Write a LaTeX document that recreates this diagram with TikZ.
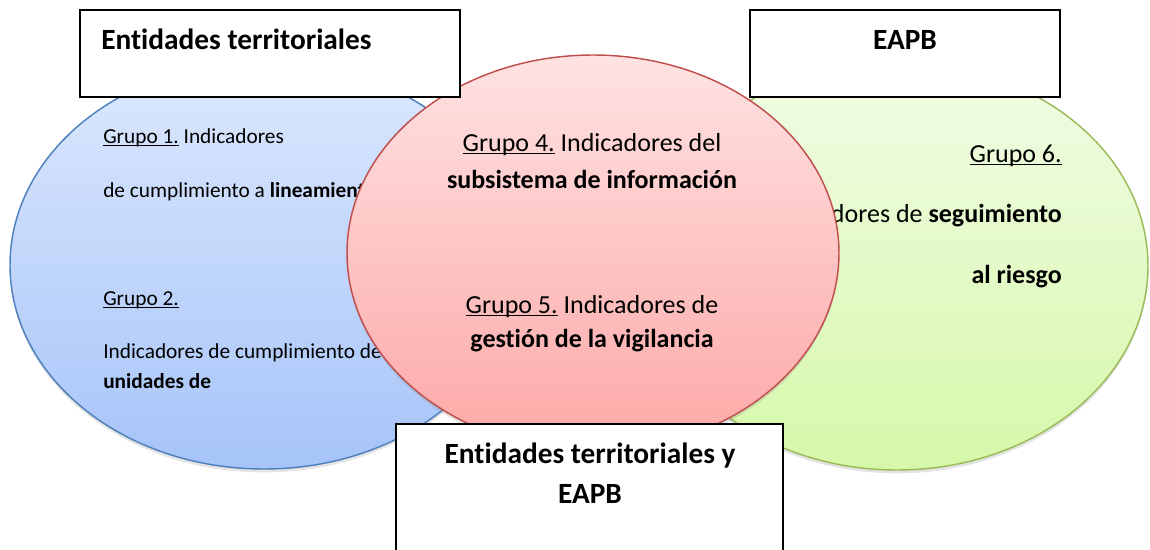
\documentclass[tikz,border=0pt]{standalone}
\usepackage{fontspec}
\setmainfont{Carlito}[Ligatures=NoCommon]
\newcommand{\subrayado}[1]{\leavevmode\setbox0=\hbox{#1}\rlap{\rule[-2.2pt]{\wd0}{0.85pt}}\box0\relax}
\usetikzlibrary{shadows}
\definecolor{azulborde}{HTML}{4F81BD}
\definecolor{azularriba}{HTML}{DDE8FD}
\definecolor{azulabajo}{HTML}{A6C4F9}
\definecolor{rojoborde}{HTML}{C0504D}
\definecolor{rojoarriba}{HTML}{FEE2E2}
\definecolor{rojoabajo}{HTML}{FDA8A7}
\definecolor{verdeborde}{HTML}{9BBB59}
\definecolor{verdearriba}{HTML}{F1FCE6}
\definecolor{verdeabajo}{HTML}{D6F8A9}
\begin{document}
\begin{tikzpicture}[x=0.75pt,y=-0.75pt,
    ovalo/.style={line width=1.1pt, drop shadow={opacity=0.22,shadow xshift=0pt,shadow yshift=-2.5pt}},
    caja/.style={draw=black, fill=white, line width=1.4pt},
    chico/.style={font=\fontsize{16}{19}\selectfont, inner sep=0pt},
    medio/.style={font=\fontsize{19.5}{23}\selectfont, inner sep=0pt},
    titulo/.style={font=\fontsize{22}{26}\selectfont\bfseries, inner sep=0pt}]
  \clip (0,0) rectangle (1150,550);
  % conjuntos de los lados
  \draw[ovalo, draw=azulborde, top color=azularriba, bottom color=azulabajo]
    (264,265) ellipse [x radius=254, y radius=204];
  \draw[ovalo, draw=verdeborde, top color=verdearriba, bottom color=verdeabajo]
    (897,266) ellipse [x radius=251, y radius=204];
  % grupos 1 y 2
  \node[chico, anchor=base west] (g1a) at (103,143) {\subrayado{Grupo 1.} Indicadores};
  \node[chico, anchor=base west] (g1b) at (103,197) {de cumplimiento a \textbf{lineamientos}};
  \node[chico, anchor=base west] (g2a) at (103,305) {\subrayado{Grupo 2.}};
  \node[chico, anchor=base west] (g2b) at (103,358) {Indicadores de cumplimiento de};
  \node[chico, anchor=base west] (g2c) at (103,388) {\textbf{unidades de}};
  % grupo 6
  \node[medio, anchor=base east] (g6a) at (1062,162) {\subrayado{Grupo 6.}};
  \node[medio, anchor=base east] (g6b) at (1062,222) {Indicadores de \textbf{seguimiento}};
  \node[medio, anchor=base east] (g6c) at (1062,283) {\textbf{al riesgo}};
  % conjunto del centro
  \draw[ovalo, draw=rojoborde, top color=rojoarriba, bottom color=rojoabajo]
    (593,253) ellipse [x radius=246, y radius=198];
  \node[medio, anchor=base] (g4a) at (592,151) {\subrayado{Grupo 4.} Indicadores del};
  \node[medio, anchor=base] (g4b) at (592,188) {\textbf{subsistema de información}};
  \node[medio, anchor=base] (g5a) at (592,313) {\subrayado{Grupo 5.} Indicadores de};
  \node[medio, anchor=base] (g5b) at (592,347) {\textbf{gestión de la vigilancia}};
  % cajas
  \draw[caja] (80,10) rectangle (460,97);
  \node[titulo, anchor=base west] (tET) at (101,49) {Entidades territoriales};
  \draw[caja] (750,10) rectangle (1060,97);
  \node[titulo, anchor=base] (tEAPB) at (905,49) {EAPB};
  \draw[caja] (396,424) rectangle (783,570);
  \node[titulo, anchor=base] (tAmbos) at (590,463) {Entidades territoriales y};
  \node[titulo, anchor=base] (tAmbosB) at (590,503) {EAPB};
\end{tikzpicture}
\end{document}
